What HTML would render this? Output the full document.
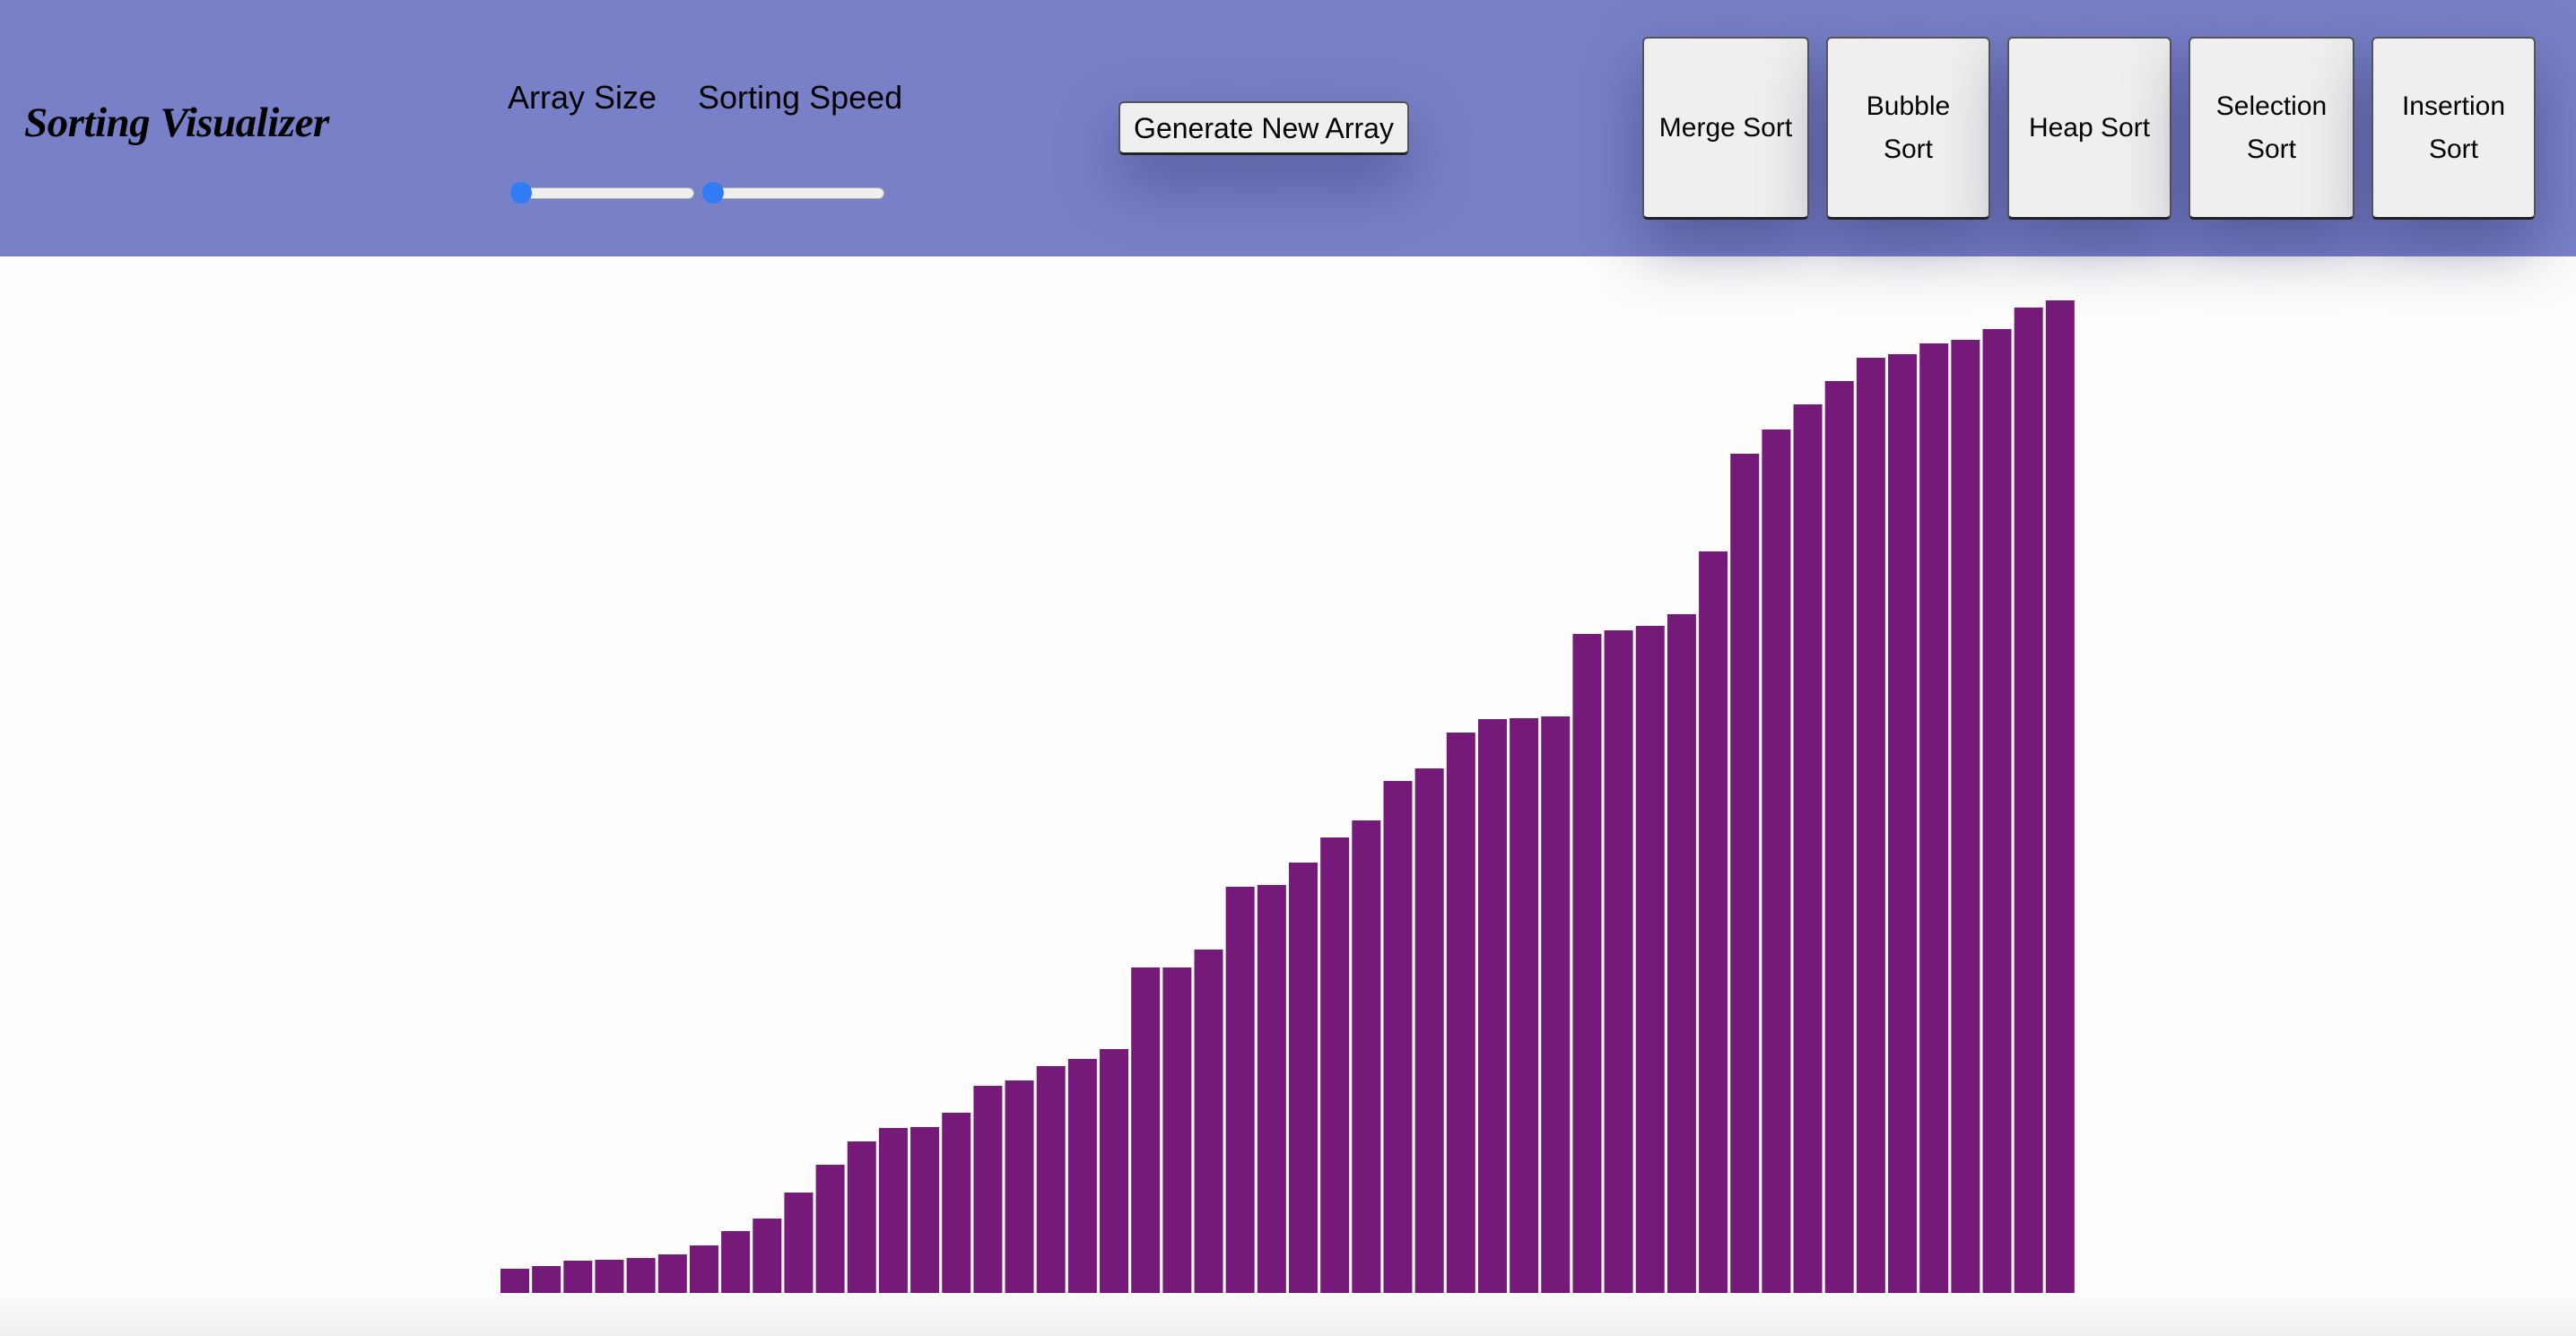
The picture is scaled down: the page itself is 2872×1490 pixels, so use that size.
<!DOCTYPE html>
<html><head><meta charset="utf-8">
<style>
html,body{margin:0;padding:0;width:2872px;height:1490px;overflow:hidden;background:#fdfdfd;font-family:"Liberation Sans",sans-serif;}
#header{position:absolute;left:0;top:0;width:2872px;height:286px;background:#7880c8;}
#title{position:absolute;left:27px;top:110px;font-family:"Liberation Serif",serif;font-weight:bold;font-style:italic;font-size:47px;color:#000;transform:scaleX(1.0);transform-origin:left top;white-space:nowrap;letter-spacing:-0.5px;}
.lbl{position:absolute;top:88px;font-size:36px;color:#000;white-space:nowrap;transform-origin:left top;}
.track{position:absolute;height:11px;top:209px;background:#eee;border:1px solid #aaa;border-radius:7px;}
.thumb{position:absolute;width:24px;height:24px;border-radius:50%;background:#2f7cf6;top:203px;}
.btn{position:absolute;background:#efefef;border:2px solid #555;border-bottom:3px solid #222;border-radius:6px;box-sizing:border-box;color:#000;font-size:30px;display:flex;align-items:center;justify-content:center;text-align:center;line-height:48px;box-shadow:0 30px 70px rgba(40,40,90,0.45);}
#bottomshade{position:absolute;left:0;top:1440px;width:2872px;height:50px;background:linear-gradient(#fdfdfd,#efefef);}
</style></head><body>
<div id="header">
<div id="title">Sorting Visualizer</div>
<div class="lbl" style="left:566px;">Array Size</div>
<div class="lbl" style="left:778px;">Sorting Speed</div>
<div class="track" style="left:572px;width:200px;"></div>
<div class="thumb" style="left:569px;"></div>
<div class="track" style="left:786px;width:198px;"></div>
<div class="thumb" style="left:783px;"></div>
<div class="btn" style="left:1247px;top:113px;width:324px;height:60px;font-size:32px;">Generate New Array</div>
<div class="btn" style="left:1831px;top:41px;width:186px;height:204px;">Merge Sort</div>
<div class="btn" style="left:2036px;top:41px;width:183px;height:204px;">Bubble<br>Sort</div>
<div class="btn" style="left:2238px;top:41px;width:183px;height:204px;">Heap Sort</div>
<div class="btn" style="left:2440px;top:41px;width:185px;height:204px;">Selection<br>Sort</div>
<div class="btn" style="left:2644px;top:41px;width:183px;height:204px;">Insertion<br>Sort</div>
</div>
<div id="bottomshade"></div>
<svg id="chart" width="2872" height="1490" style="position:absolute;left:0;top:0;"></svg>
<script>
const values=[27,30,36,37,39,43,53,69,83,112,143,169,184,185,201,231,237,253,261,272,363,363,383,453,455,480,508,527,571,585,625,640,641,643,735,739,744,757,827,936,963,991,1017,1043,1047,1059,1063,1075,1099,1107];
const X0=558,X1=2316,BASE=1442,BW=32;
function xPos(i){return X0+i*(X1-X0)/values.length;}
function yPos(v){return BASE-v;}
const svg=document.getElementById('chart');
values.forEach((v,i)=>{
 const r=document.createElementNS('http://www.w3.org/2000/svg','rect');
 r.setAttribute('x',xPos(i));
 r.setAttribute('y',yPos(v));
 r.setAttribute('width',BW);
 r.setAttribute('height',BASE-yPos(v));
 r.setAttribute('fill','#761a7a');
 
 
 svg.appendChild(r);
});
</script>
</body></html>
